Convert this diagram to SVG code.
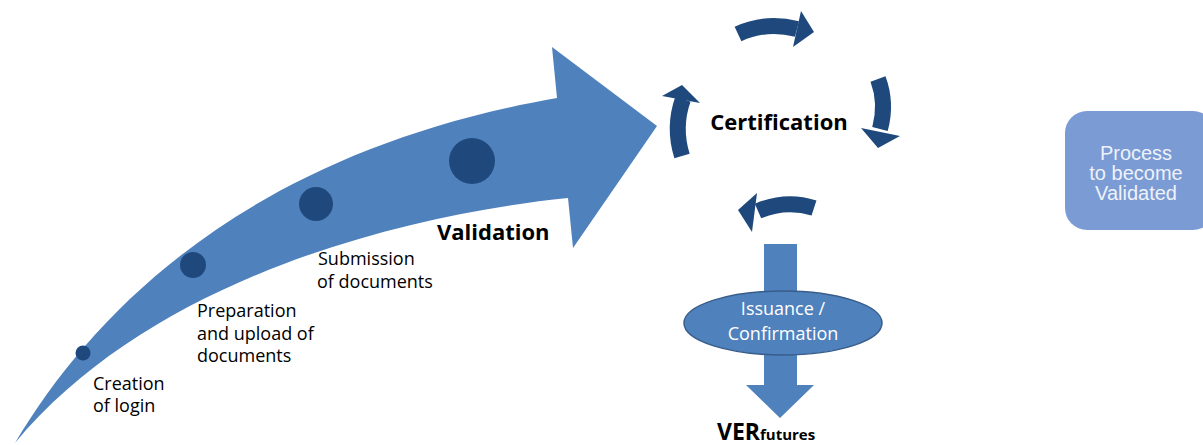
<svg xmlns="http://www.w3.org/2000/svg" width="1203" height="445" viewBox="0 0 1203 445">
<style>
.lbl{font-family:"Open Sans","Liberation Sans",sans-serif;font-size:18px;fill:#000}
.bold{font-family:"Open Sans","Liberation Sans",sans-serif;font-weight:bold;fill:#000}
.dot{fill:#1f497d}
.cyc{fill:none;stroke:#1f497d;stroke-width:16}
.cyh{fill:#1f497d}
.white{font-family:"Open Sans","Liberation Sans",sans-serif;font-size:18px;fill:#fff;text-anchor:middle}
.proc{font-family:"Liberation Sans",Arial,sans-serif;font-size:20px;fill:#eef2fa;text-anchor:middle}
</style>
<rect width="1203" height="445" fill="#fff"/>
<g id="validation-arrow">
<path d="M15,443 C100,300 260,150 557,98 L552,47 L657,126 L573,248 L568,198 C400,215 150,280 15,443 Z" fill="#4f81bd"/>
<circle class="dot" cx="83" cy="353" r="7.5"/>
<circle class="dot" cx="193" cy="265" r="13"/>
<circle class="dot" cx="316" cy="204" r="17"/>
<circle class="dot" cx="472" cy="161" r="23"/>
<text class="lbl" x="93" y="390">Creation</text>
<text class="lbl" x="93" y="412">of login</text>
<text class="lbl" x="197" y="317">Preparation</text>
<text class="lbl" x="197" y="340">and upload of</text>
<text class="lbl" x="197" y="362">documents</text>
<text class="lbl" x="318" y="265">Submission</text>
<text class="lbl" x="317" y="288">of documents</text>
<text class="bold" x="437" y="240" font-size="22">Validation</text>
</g>
<g id="certification">
<path class="cyc" d="M738,34 Q766,21 797,29"/>
<polygon class="cyh" points="801,11 814,32 793,47"/>
<path class="cyc" d="M878,79 Q887,103 880,129"/>
<polygon class="cyh" points="861,128 900,136 878,148"/>
<path class="cyc" d="M814,208 Q786,199 758,211"/>
<polygon class="cyh" points="757,193 738,210 752,232"/>
<path class="cyc" d="M682,156 Q673,127 683,99"/>
<polygon class="cyh" points="662,96 682,85 700,103"/>
<text class="bold" x="779" y="130" font-size="22" text-anchor="middle">Certification</text>
</g>
<g id="issuance">
<path d="M764,244 H797 V385 H814 L780,418 L746,385 H764 Z" fill="#4f81bd"/>
<ellipse cx="783" cy="323" rx="99" ry="32" fill="#4f81bd" stroke="#385d8a" stroke-width="1.5"/>
<text class="white" x="783" y="315">Issuance /</text>
<text class="white" x="783" y="340">Confirmation</text>
</g>
<g id="verfutures">
<text class="bold" x="717" y="440" font-size="23">VER<tspan font-size="15">futures</tspan></text>
</g>
<g id="process">
<rect x="1065" y="111" width="150" height="119" rx="22" fill="#7b9bd4"/>
<text class="proc" x="1136" y="160">Process</text>
<text class="proc" x="1136" y="180">to become</text>
<text class="proc" x="1136" y="200">Validated</text>
</g>
</svg>
